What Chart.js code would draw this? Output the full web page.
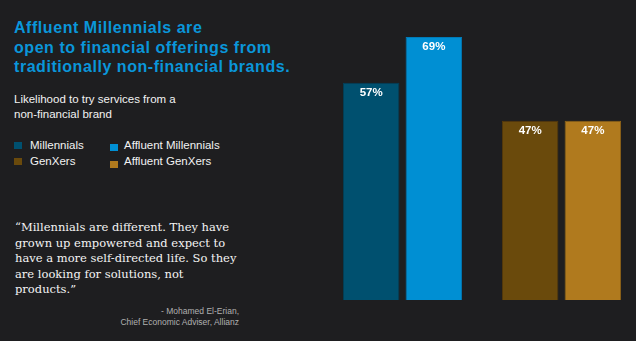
<!DOCTYPE html>
<html>
<head>
<meta charset="utf-8">
<script src="https://cdn.jsdelivr.net/npm/chart.js@4"></script>
<style>
  html, body { margin: 0; padding: 0; }
  body {
    width: 636px; height: 341px; overflow: hidden; position: relative;
    background: #1e1e20; font-family: "Liberation Sans", Arial, sans-serif;
  }
  .abs { position: absolute; white-space: nowrap; }
  #title {
    left: 14px; top: 18px; color: #0a96da; font-weight: bold;
    font-size: 16px; line-height: 19.5px; letter-spacing: 0.55px;
  }
  #subtitle { left: 14px; top: 91.7px; color: #f2f2f2; font-size: 11.5px; line-height: 15px; }
  .leg { font-size: 11.5px; line-height: 17px; color: #f2f2f2; }
  .sw { position: absolute; width: 8px; height: 7px; }
  #quote {
    left: 15px; top: 220px; color: #f4f4f4; font-family: "DejaVu Serif", serif;
    font-size: 11.5px; line-height: 15.6px;
  }
  #attr {
    right: 397px; top: 306px; color: #b0b0b0; font-size: 8.5px; line-height: 11px; text-align: right;
  }
  #chartWrap { position: absolute; left: 323px; top: 0; width: 318px; height: 341px; }
</style>
</head>
<body>
<div id="title" class="abs">Affluent Millennials are<br>open to financial offerings from<br>traditionally non-financial brands.</div>
<div id="subtitle" class="abs">Likelihood to try services from a<br>non-financial brand</div>
<div id="legend"></div>
<div id="quote" class="abs">“Millennials are different. They have<br>grown up empowered and expect to<br>have a more self-directed life. So they<br>are looking for solutions, not<br>products.”</div>
<div id="attr" class="abs">- Mohamed El-Erian,<br>Chief Economic Adviser, Allianz</div>
<div id="chartWrap"><canvas id="barChart"></canvas></div>

<script>
// groups and values
const categories = ['Millennials', 'GenXers'];
const baseValues = [57, 47];
const affluentValues = [69, 47];
const legendLabels = ['Millennials', 'Affluent Millennials', 'GenXers', 'Affluent GenXers'];

const baseColors = ['#00506f', '#6a4a0c'];
const affluentColors = ['#008fd3', '#b07a1e'];
const baseBorders = ['#003f59', '#56390a'];
const affluentBorders = ['#007bb8', '#8f6418'];

// html legend, 2 x 2
(function() {
    const legend = document.getElementById('legend');
    const colors = [baseColors[0], affluentColors[0], baseColors[1], affluentColors[1]];
    const cols = [{ sq: 14, txt: 30, dy: 0 }, { sq: 110, txt: 124, dy: 2.6 }];
    const rowTop = [136.7, 153.4];
    legendLabels.forEach(function(label, i) {
        const c = cols[i % 2];
        const top = rowTop[Math.floor(i / 2)];
        const sw = document.createElement('div');
        sw.className = 'sw';
        sw.style.left = c.sq + 'px';
        sw.style.top = (top + 5 + c.dy) + 'px';
        sw.style.background = colors[i];
        legend.appendChild(sw);
        const t = document.createElement('div');
        t.className = 'abs leg';
        t.style.left = c.txt + 'px';
        t.style.top = top + 'px';
        t.textContent = label;
        legend.appendChild(t);
    });
})();

const valueLabels = {
    id: 'valueLabels',
    afterDatasetsDraw(chart) {
        const ctx = chart.ctx;
        ctx.save();
        ctx.fillStyle = '#ffffff';
        ctx.font = 'bold 11.5px "Liberation Sans", Arial, sans-serif';
        ctx.textAlign = 'center';
        ctx.textBaseline = 'alphabetic';
        chart.data.datasets.forEach(function(ds, di) {
            chart.getDatasetMeta(di).data.forEach(function(bar, i) {
                ctx.fillText(ds.data[i] + '%', bar.x, bar.y + 13.3);
            });
        });
        ctx.restore();
    }
};

new Chart(document.getElementById('barChart'), {
    type: 'bar',
    data: {
        labels: categories,
        datasets: [{
            label: 'Base',
            data: baseValues,
            backgroundColor: baseColors,
            borderColor: baseBorders,
            borderWidth: 1
        }, {
            label: 'Affluent',
            data: affluentValues,
            backgroundColor: affluentColors,
            borderColor: affluentBorders,
            borderWidth: 1
        }]
    },
    options: {
        responsive: true,
        maintainAspectRatio: false,
        animation: false,
        categoryPercentage: 0.789,
        barPercentage: 0.901,
        layout: { padding: { top: 14, bottom: 41, left: 0, right: 0 } },
        scales: {
            x: { display: false },
            y: { display: false, min: 0, max: 75 }
        },
        plugins: {
            legend: { display: false },
            tooltip: { enabled: false }
        }
    },
    plugins: [valueLabels]
});
</script>
</body>
</html>
